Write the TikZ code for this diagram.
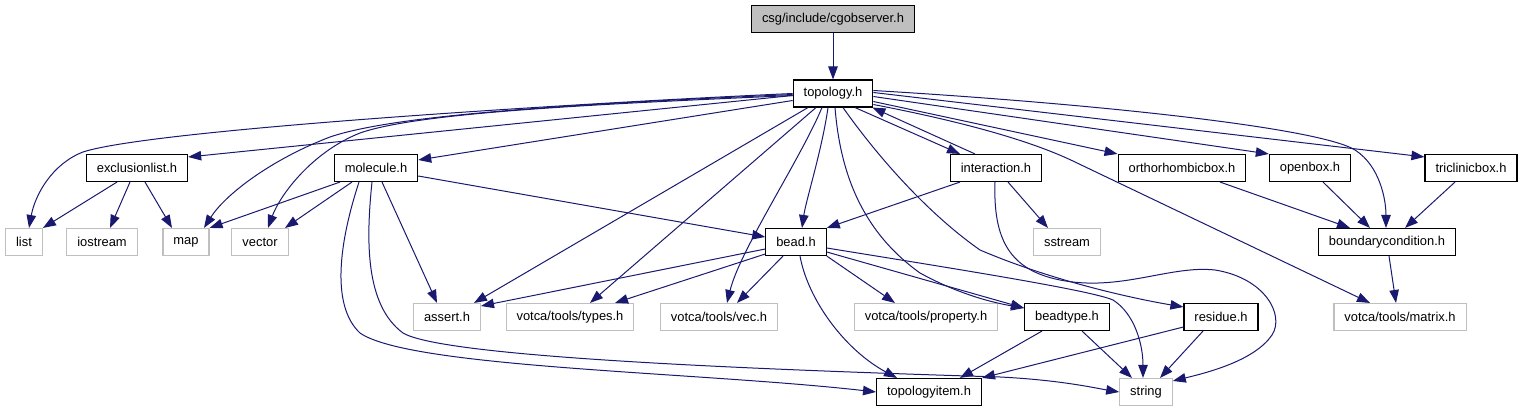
\documentclass[tikz,border=0pt]{standalone}
\usepackage{fontspec}
\setmainfont{Liberation Sans}
\usetikzlibrary{arrows.meta}
\definecolor{depblue}{HTML}{191970}
\definecolor{sysgray}{HTML}{BFBFBF}
\begin{document}
\begin{tikzpicture}[x=1pt,y=-1pt,
  hdr/.style={draw=black,line width=1.1pt,minimum height=27pt,inner xsep=10.5pt,inner ysep=0pt,
    font=\fontsize{12.9}{15}\selectfont},
  syshdr/.style={hdr,draw=sysgray},
  dep/.style={draw=depblue,line width=1pt,-{Triangle[length=13pt,width=9.5pt]}}]
\useasboundingbox (0,0) rectangle (1524,411);

\node[hdr,fill=sysgray] (cgob) at (833,19) {csg/include/cgobserver.h};
\node[hdr] (topo) at (833,93.5) {topology.h};

\node[hdr] (excl) at (137,168) {exclusionlist.h};
\node[hdr] (mol) at (376,168) {molecule.h};
\node[hdr] (inter) at (996,168) {interaction.h};
\node[hdr] (ortho) at (1182,168) {orthorhombicbox.h};
\node[hdr] (openb) at (1310,168) {openbox.h};
\node[hdr] (tricl) at (1471,168) {triclinicbox.h};

\node[syshdr] (list) at (24,242) {list};
\node[syshdr] (iostr) at (102,242) {iostream};
\node[syshdr] (map) at (186,242) {map};
\node[syshdr] (vector) at (260,242) {vector};
\node[hdr] (bead) at (796,242) {bead.h};
\node[syshdr] (sstream) at (1067,242) {sstream};
\node[hdr] (bc) at (1387,242) {boundarycondition.h};

\node[syshdr] (assert) at (447,317) {assert.h};
\node[syshdr] (types) at (570,317) {votca/tools/types.h};
\node[syshdr] (vec) at (719,317) {votca/tools/vec.h};
\node[syshdr] (prop) at (926,317) {votca/tools/property.h};
\node[hdr] (beadtype) at (1067,317) {beadtype.h};
\node[hdr] (residue) at (1221,317) {residue.h};
\node[syshdr] (matrix) at (1400,317) {votca/tools/matrix.h};

\node[hdr] (titem) at (929,392) {topologyitem.h};
\node[syshdr] (string) at (1146,392) {string};

\draw[dep] (cgob) -- (topo);

% topology.h
\draw[dep] (topo.west) .. controls (560,104) and (150,130) .. (83,152)
  .. controls (52,164) and (35,195) .. ([xshift=5]list.north);
\draw[dep] ([yshift=-1]topo.west) .. controls (600,103) and (400,113) .. (330,137)
  .. controls (270,160) and (225,195) .. ([xshift=18]map.north);
\draw[dep] ([yshift=-2]topo.west) .. controls (600,104) and (420,112) .. (360,133)
  .. controls (312,152) and (280,195) .. ([xshift=8]vector.north);
\draw[dep] ([yshift=-2]topo.west) -- ([yshift=11]excl.east);
\draw[dep] ([yshift=-7]topo.west) -- ([yshift=8]mol.east);
\draw[dep] ([xshift=-25]topo.south) -- ([xshift=27]assert.north);
\draw[dep] ([xshift=-17]topo.south) -- ([xshift=20]types.north);
\draw[dep] ([xshift=-11]topo.south) .. controls (800,160) and (740,250) .. ([xshift=8]vec.north);
\draw[dep] ([xshift=-5]topo.south) .. controls (822,150) and (806,200) .. ([xshift=6]bead.north);
\draw[dep] ([xshift=2]topo.south) .. controls (840,170) and (860,230) .. (920,273)
  .. controls (960,295) and (995,303) .. ([yshift=9]beadtype.west);
\draw[dep] ([xshift=10]topo.south) .. controls (880,160) and (930,215) .. (980,250)
  .. controls (1050,280) and (1130,298) .. ([yshift=10]residue.west);
\draw[dep] ([xshift=22]topo.south) -- ([xshift=-36]inter.north);
\draw[dep] ([yshift=-8]topo.east) -- (ortho.north west);
\draw[dep] ([yshift=-3]topo.east) -- (openb.north west);
\draw[dep] ([yshift=1]topo.east) -- ([yshift=-3]tricl.north west);
\draw[dep] ([yshift=3]topo.east) .. controls (1100,104) and (1320,128) .. (1355,150)
  .. controls (1380,166) and (1386,200) .. ([xshift=-1]bc.north);
\draw[dep] ([yshift=-11]topo.east) .. controls (980,125) and (1040,145) .. (1075,162)
  -- ([xshift=-30]matrix.north);

% interaction.h
\draw[dep] ([xshift=-21]inter.north) -- ([xshift=-1]topo.south east);
\draw[dep] ([xshift=-36]inter.south) -- (bead.north east);
\draw[dep] ([xshift=12]inter.south) -- ([xshift=-19]sstream.north);
\draw[dep] ([xshift=-1]inter.south) .. controls (993,240) and (1010,270) .. (1060,280)
  .. controls (1120,292) and (1170,265) .. (1215,270)
  .. controls (1265,278) and (1285,315) .. (1272,335)
  .. controls (1255,360) and (1210,372) .. ([yshift=-3]string.north east);

% bead.h
\draw[dep] ([yshift=-7]bead.west) -- ([yshift=11]assert.east);
\draw[dep] ([yshift=-12]bead.west) -- ([xshift=45]types.north);
\draw[dep] ([xshift=-13]bead.south) -- ([xshift=18]vec.north);
\draw[dep] (bead.south east) -- ([xshift=-31]prop.north);
\draw[dep] ([xshift=4]bead.south) .. controls (808,300) and (845,350) .. ([xshift=-32]titem.north);
\draw[dep] ([yshift=-10]bead.east) -- ([yshift=9]beadtype.west);
\draw[dep] ([yshift=-6]bead.east) .. controls (950,268) and (1090,290) .. (1113,300)
  .. controls (1135,314) and (1143,345) .. ([xshift=-3]string.north);

% molecule.h
\draw[dep] ([xshift=-36]mol.south) -- (map.north east);
\draw[dep] ([xshift=-24]mol.south) -- ([xshift=25]vector.north);
\draw[dep] ([xshift=6]mol.south) -- ([xshift=-10]assert.north);
\draw[dep] ([yshift=-8]mol.east) -- ([yshift=5]bead.west);
\draw[dep] ([xshift=-17]mol.south) .. controls (340,240) and (330,305) .. (360,333)
  .. controls (410,368) and (700,372) .. (titem.west);
\draw[dep] ([xshift=-4]mol.south) .. controls (366,240) and (365,305) .. (403,333)
  .. controls (440,355) and (700,368) .. (1000,377)
  .. controls (1060,380) and (1095,388) .. (string.west);

% exclusionlist.h
\draw[dep] ([xshift=-20]excl.south) -- (list.north east);
\draw[dep] ([xshift=-7]excl.south) -- ([xshift=8]iostr.north);
\draw[dep] ([xshift=8]excl.south) -- ([xshift=-14]map.north);

% beadtype.h, residue.h
\draw[dep] ([xshift=-25]beadtype.south) -- ([xshift=31]titem.north);
\draw[dep] ([xshift=15]beadtype.south) -- ([xshift=-14]string.north);
\draw[dep] ([yshift=-10]residue.west) -- (titem.north east);
\draw[dep] ([xshift=-18]residue.south) -- ([xshift=14]string.north);

% boxes
\draw[dep] ([xshift=38]ortho.south) -- ([xshift=-37]bc.north);
\draw[dep] ([xshift=13]openb.south) -- ([xshift=-17]bc.north);
\draw[dep] ([xshift=-16]tricl.south) -- ([xshift=18]bc.north);
\draw[dep] ([xshift=2]bc.south) -- ([xshift=-4]matrix.north);
\end{tikzpicture}
\end{document}
